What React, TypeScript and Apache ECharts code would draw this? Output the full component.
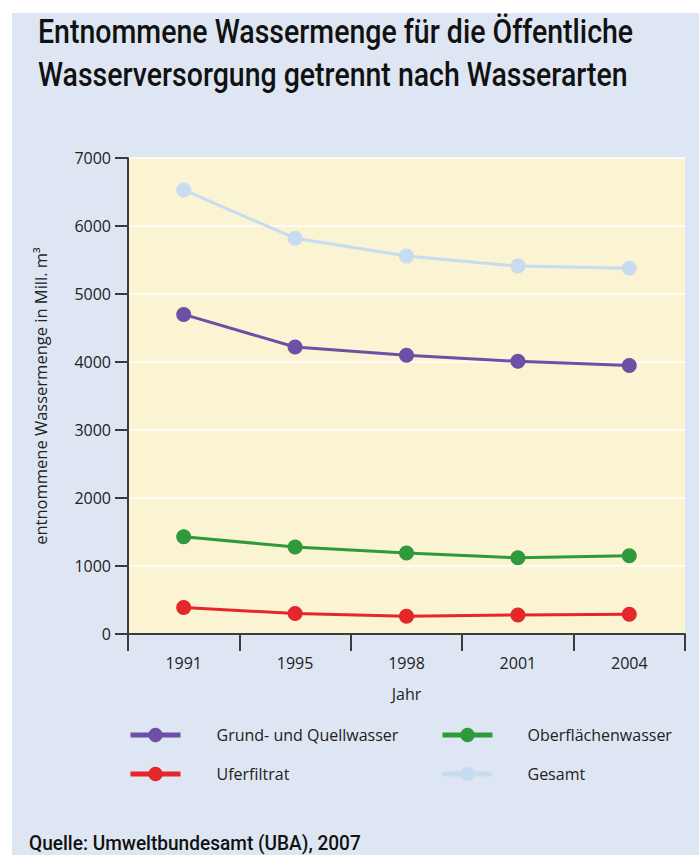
import React, { useEffect, useRef } from "react";
import * as echarts from "echarts";

const years = ["1991", "1995", "1998", "2001", "2004"];
const grundQuellwasser = [4700, 4220, 4100, 4010, 3950];
const oberflaechenwasser = [1430, 1280, 1190, 1120, 1150];
const uferfiltrat = [390, 300, 260, 280, 290];
const gesamt = [6530, 5820, 5560, 5410, 5380];
const yTicks = { min: 0, max: 7000, interval: 1000 };

const titleLines = [
  "Entnommene Wassermenge für die Öffentliche",
  "Wasserversorgung getrennt nach Wasserarten",
];
const sourceText = "Quelle: Umweltbundesamt (UBA), 2007";
const yAxisName = "entnommene Wassermenge in Mill. m³";
const xAxisName = "Jahr";

const names = {
  grund: "Grund- und Quellwasser",
  ober: "Oberflächenwasser",
  ufer: "Uferfiltrat",
  gesamt: "Gesamt",
};

const colors = {
  grund: "#6e4fa6",
  ober: "#2f9a3b",
  ufer: "#e5262b",
  gesamt: "#c7dbf1",
  bg: "#dee6f3",
  plot: "#faf4d2",
  text: "#222222",
  axis: "#3c3c3c",
};

function measure(text: string, font: string): number {
  const c = document.createElement("canvas");
  const ctx = c.getContext("2d");
  if (!ctx) return text.length * 10;
  ctx.font = font;
  return ctx.measureText(text).width;
}

export default function App() {
  const ref = useRef<HTMLDivElement>(null);

  useEffect(() => {
    if (!ref.current) return;
    const chart = echarts.init(ref.current, undefined, { renderer: "svg" });

    const titleFont = "500 33px Roboto";
    const t1w = measure(titleLines[0], titleFont);
    const t2w = measure(titleLines[1], titleFont);
    const sx1 = 595 / t1w;
    const sx2 = 590 / t2w;
    const srcFont = "500 20px Roboto";
    const sw = measure(sourceText, srcFont);
    const ssx = 332 / sw;

    const labelFont = "Open Sans";

    const mkSeries = (name: string, data: number[], color: string) => ({
      name,
      type: "line",
      data,
      symbol: "circle",
      symbolSize: 15,
      showSymbol: true,
      lineStyle: { color, width: 3 },
      itemStyle: { color },
      emphasis: { disabled: true },
    });

    const legendBase = {
      top: 727,
      orient: "vertical",
      padding: 0,
      itemWidth: 50,
      itemHeight: 18,
      itemGap: 23,
      lineStyle: { width: 5 },
      selectedMode: false,
    };

    chart.setOption({
      animation: false,
      backgroundColor: "#ffffff",
      graphic: [
        {
          type: "rect",
          left: 12,
          top: 13,
          shape: { width: 699 - 12, height: 855 - 13 },
          style: { fill: colors.bg },
          z: -10,
          silent: true,
        },
        {
          type: "text",
          x: 38,
          y: 32,
          scaleX: sx1,
          style: {
            text: titleLines[0],
            font: titleFont,
            fill: "#111",
            verticalAlign: "middle",
          },
        },
        {
          type: "text",
          x: 38,
          y: 75,
          scaleX: sx2,
          style: {
            text: titleLines[1],
            font: titleFont,
            fill: "#111",
            verticalAlign: "middle",
          },
        },
        {
          type: "text",
          x: 29,
          y: 843,
          scaleX: ssx,
          style: {
            text: sourceText,
            font: srcFont,
            fill: "#111",
            verticalAlign: "middle",
          },
        },
      ],
      grid: {
        left: 128,
        right: 14,
        top: 158,
        bottom: 855 - 634,
        show: true,
        backgroundColor: colors.plot,
        borderWidth: 0,
      },
      legend: [
        {
          ...legendBase,
          left: 128,
          data: [names.grund, names.ufer],
          textStyle: {
            fontFamily: labelFont,
            fontSize: 16,
            color: colors.text,
            padding: [0, 0, 0, 31],
          },
        },
        {
          ...legendBase,
          left: 440,
          data: [names.ober, names.gesamt],
          textStyle: {
            fontFamily: labelFont,
            fontSize: 16,
            color: colors.text,
            padding: [0, 0, 0, 30],
          },
        },
      ],
      xAxis: {
        type: "category",
        data: years,
        boundaryGap: true,
        name: xAxisName,
        nameLocation: "middle",
        nameGap: 52,
        nameTextStyle: {
          fontFamily: labelFont,
          fontSize: 16,
          color: colors.text,
          verticalAlign: "top",
        },
        axisLine: { show: true, lineStyle: { color: colors.axis, width: 2 } },
        axisTick: {
          show: true,
          length: 17,
          lineStyle: { color: colors.axis, width: 2 },
        },
        axisLabel: {
          fontFamily: labelFont,
          fontSize: 16,
          color: colors.text,
          margin: 21,
        },
        splitLine: { show: false },
      },
      yAxis: {
        type: "value",
        min: yTicks.min,
        max: yTicks.max,
        interval: yTicks.interval,
        name: yAxisName,
        nameLocation: "middle",
        nameGap: 79,
        nameTextStyle: {
          fontFamily: labelFont,
          fontSize: 16.5,
          color: colors.text,
        },
        axisLine: { show: true, lineStyle: { color: colors.axis, width: 2 } },
        axisTick: {
          show: true,
          length: 13,
          lineStyle: { color: colors.axis, width: 2 },
        },
        axisLabel: {
          fontFamily: labelFont,
          fontSize: 16,
          color: colors.text,
          margin: 17,
          formatter: (v: number) => String(v),
        },
        splitLine: { show: true, lineStyle: { color: "#ffffff", width: 1.5 } },
      },
      series: [
        mkSeries(names.grund, grundQuellwasser, colors.grund),
        mkSeries(names.ober, oberflaechenwasser, colors.ober),
        mkSeries(names.ufer, uferfiltrat, colors.ufer),
        mkSeries(names.gesamt, gesamt, colors.gesamt),
      ],
    });

    return () => chart.dispose();
  }, []);

  return (
    <div
      ref={ref}
      style={{ position: "absolute", left: 0, top: 0, width: 699, height: 855 }}
    />
  );
}
